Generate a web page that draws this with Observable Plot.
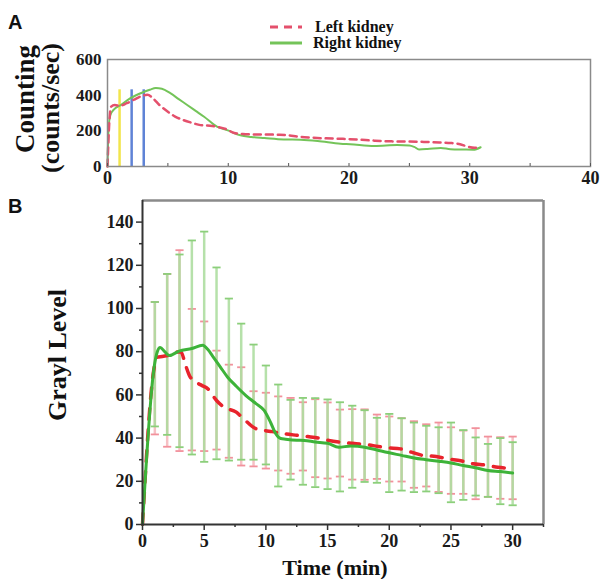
<!DOCTYPE html>
<html><head><meta charset="utf-8">
<script src="https://cdn.jsdelivr.net/npm/d3@7"></script>
<script src="https://cdn.jsdelivr.net/npm/@observablehq/plot@0.6"></script>
<style>
body{margin:0;background:#fff;}
#wrap{position:relative;width:600px;height:579px;overflow:hidden;font-family:"Liberation Serif","Times New Roman",serif;color:#111;}
.abs{position:absolute;}
.panel{font-family:"Liberation Sans",Arial,sans-serif;font-weight:bold;font-size:20px;line-height:1;}
.rot{transform:translate(-50%,-50%) rotate(-90deg);white-space:nowrap;font-weight:bold;line-height:1;}
.leg{font-weight:bold;font-size:16px;line-height:1;white-space:nowrap;}
svg.plot{position:absolute;left:0;}
</style></head>
<body><div id="wrap"></div>
<script>
// ---------- Panel A data ----------
const aLeftT  = [0, 0.15, 0.3, 0.6, 1, 1.6, 2.2, 2.7, 3.3, 3.8, 4.3, 5, 5.6, 6.3, 7, 7.7, 8.5, 9.1, 9.8, 10.5, 11.2, 12.1, 13, 14, 15, 15.7, 16.8, 18, 19.5, 20.7, 22.1, 23.5, 25, 26.2, 27.5, 28.4, 29.2, 29.8, 30.4, 30.9];
const aLeftV  = [0, 250, 335, 345, 340, 355, 375, 392, 402, 380, 345, 307, 280, 260, 245, 232, 228, 222, 210, 188, 182, 180, 180, 178, 175, 168, 162, 158, 155, 151, 145, 141, 140, 138, 135, 132, 125, 112, 105, 113];
const aRightT = [0, 0.1, 0.25, 0.5, 1.1, 1.9, 2.9, 3.5, 4, 4.5, 5.2, 5.9, 6.6, 7.3, 8, 9.1, 9.9, 11, 11.9, 13, 14.6, 16, 17.4, 19.3, 20.1, 22.1, 24, 25, 25.4, 25.8, 26.5, 27.6, 28.4, 29.5, 30.3, 30.9];
const aRightV = [0, 230, 290, 317, 345, 383, 415, 430, 440, 436, 411, 378, 345, 312, 279, 222, 204, 175, 166, 160, 152, 150, 143, 128, 125, 115, 120, 118, 110, 96, 98, 104, 97, 95, 94, 108];
const aYellowT = [1];
const aBlueT   = [2, 3];
const aMarkerTop = 430;
const aXTicks = [0, 10, 20, 30, 40];
const aYTicks = [0, 200, 400, 600];
const aMinorX = [0, 5, 10, 15, 20, 25, 30, 35, 40];

// ---------- Panel B data ----------
const bBarT   = [1,2,3,4,5,6,7,8,9,10,11,12,13,14,15,16,17,18,19,20,21,22,23,24,25,26,27,28,29,30];
const bGreenHi = [103,116,125,131.5,135.6,119,104.6,93,83.3,73.6,64.8,57.7,58.6,58.5,57.9,56.6,55,52.9,49.4,51.2,49.2,47.2,45.7,45,47.2,43.7,40.3,37.3,40,38.1];
const bGreenLo = [45.4,41.5,35.8,32.4,29,30.2,29.6,30,30,27.8,17.6,20.8,18.4,17.3,16.4,15.3,17,19.7,19.3,15,15.7,15,15.3,14.5,10.3,11.4,13.4,12.8,9.4,8.9];
const bRedHi   = [103,116,127,99.8,94,80.5,74,72.8,61.7,61,59.3,58.6,56.6,58,56.5,53.2,53.4,53.3,50.9,50,49.2,47.8,46.4,47.2,45,43.5,44.6,40.7,40.4,40.7];
const bRedLo   = [41.7,36,34,34.3,34,34.7,30.9,27.3,26.9,25.9,25,23.5,25,21.9,21.3,22.2,20.8,20.7,21.1,19.9,19.9,17,17.6,15.1,14.2,14.2,11.7,12.8,11.9,11.7];
const bRightT = [0, 0.94, 1.2, 1.43, 1.8, 2.16, 2.97, 4, 4.87, 5.3, 5.68, 6.3, 6.9, 7.6, 8.38, 9.2, 9.86, 10.4, 10.8, 11.2, 11.6, 12.5, 13.1, 14, 15, 15.9, 16.9, 18, 19, 19.9, 21, 22, 23, 24, 25, 26, 27, 28, 29, 30];
const bRightV = [0, 72.8, 80, 82, 80, 78.2, 80.3, 81.5, 83, 81, 78, 73, 68.2, 64, 59.7, 56, 52.8, 47, 42, 39.8, 39.5, 39, 38.9, 38.2, 37.6, 35.8, 36.3, 35.8, 34.5, 33.3, 32, 30.8, 30, 29.3, 28.5, 27.3, 26.3, 25, 24.5, 23.8];
const bLeftT  = [0, 0.9, 1.2, 1.6, 2.2, 2.7, 3.1, 3.5, 3.8, 4.3, 4.8, 5.3, 6, 6.6, 7.6, 8.2, 9.2, 9.9, 10.5, 11.5, 12.5, 13.4, 14.3, 15.1, 16.2, 17.3, 18.2, 19.1, 20, 20.9, 21.8, 22.8, 23.8, 24.7, 25.8, 26.8, 27.8, 28.8, 30];
const bLeftV  = [0, 71, 77.5, 77.8, 78.5, 79.8, 80, 73.6, 69, 66, 64.4, 62.8, 57.4, 54.3, 52, 48.9, 44.3, 43.5, 43, 42, 41.3, 40.7, 40, 38.9, 38, 37.4, 37, 36.1, 35.5, 35, 33.5, 31.9, 31.5, 30.4, 29.5, 28.1, 27.5, 26.5, 26];
const bXTicks = [0, 5, 10, 15, 20, 25, 30];
const bXMinor = [2.5, 7.5, 12.5, 17.5, 22.5, 27.5, 32.5];
const bYTicks = [0, 20, 40, 60, 80, 100, 120, 140];
const bYMinor = [10, 30, 50, 70, 90, 110, 130];

// ---------- build tables ----------
const aLeft = aLeftT.map((t, i) => ({t, v: aLeftV[i]}));
const aRight = aRightT.map((t, i) => ({t, v: aRightV[i]}));
const bars = bBarT.map((t, i) => ({t, gHi: bGreenHi[i], gLo: bGreenLo[i], rHi: bRedHi[i], rLo: bRedLo[i]}));
const bRight = bRightT.map((t, i) => ({t, v: bRightV[i]}));
const bLeft = bLeftT.map((t, i) => ({t, v: bLeftV[i]}));

const wrap = document.getElementById("wrap");
const serif = "'Liberation Serif','Times New Roman',serif";

const plotA = Plot.plot({
  width: 600, height: 190,
  marginLeft: 107, marginRight: 10, marginTop: 59, marginBottom: 24,
  style: {fontFamily: serif, fontWeight: "bold", fontSize: "17px", color: "#1a1a1a", background: "transparent", overflow: "visible"},
  x: {domain: [0, 40]},
  y: {domain: [0, 600]},
  marks: [
    Plot.ruleX(aYellowT, {y1: 0, y2: aMarkerTop, stroke: "#f2e54c", strokeWidth: 2.5}),
    Plot.ruleX(aBlueT, {y1: 0, y2: aMarkerTop, stroke: "#5f83d6", strokeWidth: 2.5}),
    Plot.line(aRight, {x: "t", y: "v", stroke: "#74c459", strokeWidth: 2, curve: "monotone-x"}),
    Plot.line(aLeft, {x: "t", y: "v", stroke: "#e4506c", strokeWidth: 2.5, strokeDasharray: "7,5", curve: "monotone-x"}),
    Plot.frame({stroke: "#8a8a8a", strokeWidth: 1.5}),
    Plot.axisX({ticks: aMinorX, tickSize: -3, tickFormat: () => "", stroke: "#555", label: null}),
    Plot.axisX({ticks: aXTicks, tickSize: 0, tickPadding: 5, fontSize: 18, label: null}),
    Plot.axisY({ticks: aYTicks, tickSize: 0, tickPadding: 6, fontSize: 17, label: null})
  ]
});
plotA.classList.add("plot");
plotA.style.top = "0px";
wrap.appendChild(plotA);

const plotB = Plot.plot({
  width: 600, height: 389,
  marginLeft: 142, marginRight: 57, marginTop: 10, marginBottom: 55,
  style: {fontFamily: serif, fontWeight: "bold", fontSize: "18px", color: "#1a1a1a", background: "transparent", overflow: "visible"},
  x: {domain: [0, 32.5]},
  y: {domain: [0, 150]},
  marks: [
    Plot.ruleY([150], {stroke: "#8a8a8a", strokeWidth: 2.5}),
    Plot.ruleX([32.5], {stroke: "#8a8a8a", strokeWidth: 2.5}),
    Plot.ruleX(bars, {x: "t", y1: "rLo", y2: "rHi", stroke: "#f6c0c4", strokeWidth: 2.5}),
    Plot.link(bars, {x1: d => d.t - 0.33, x2: d => d.t + 0.33, y1: "rHi", y2: "rHi", stroke: "#f2919c", strokeWidth: 1.8}),
    Plot.link(bars, {x1: d => d.t - 0.33, x2: d => d.t + 0.33, y1: "rLo", y2: "rLo", stroke: "#f2919c", strokeWidth: 1.8}),
    Plot.ruleX(bars, {x: "t", y1: "gLo", y2: "gHi", stroke: "#a9dc9b", strokeWidth: 2.5, strokeOpacity: 0.85}),
    Plot.link(bars, {x1: d => d.t - 0.33, x2: d => d.t + 0.33, y1: "gHi", y2: "gHi", stroke: "#8ccf7b", strokeWidth: 1.8}),
    Plot.link(bars, {x1: d => d.t - 0.33, x2: d => d.t + 0.33, y1: "gLo", y2: "gLo", stroke: "#8ccf7b", strokeWidth: 1.8}),
    Plot.line(bLeft, {x: "t", y: "v", stroke: "#e8232c", strokeWidth: 3.5, strokeDasharray: "11,10", curve: "monotone-x"}),
    Plot.line(bRight, {x: "t", y: "v", stroke: "#3db339", strokeWidth: 3, curve: "monotone-x"}),
    Plot.ruleX([0], {stroke: "#333", strokeWidth: 2}),
    Plot.ruleY([0], {stroke: "#333", strokeWidth: 2}),
    Plot.axisY({ticks: bYMinor, tickSize: 3, tickFormat: () => "", stroke: "#333", strokeWidth: 1.5, label: null}),
    Plot.axisY({ticks: bYTicks, tickSize: 6, tickPadding: 3, fontSize: 18, stroke: "#333", strokeWidth: 1.5, label: null}),
    Plot.axisX({ticks: bXMinor, tickSize: 3, tickFormat: () => "", stroke: "#333", strokeWidth: 1.5, label: null}),
    Plot.axisX({ticks: bXTicks, tickSize: 6, tickPadding: 4, fontSize: 18, stroke: "#333", strokeWidth: 1.5, label: null})
  ]
});
plotB.classList.add("plot");
plotB.style.top = "190px";
wrap.appendChild(plotB);

function addDiv(cls, text, css) {
  const d = document.createElement("div");
  d.className = "abs " + cls;
  d.textContent = text;
  Object.assign(d.style, css);
  wrap.appendChild(d);
  return d;
}
addDiv("panel", "A", {left: "8px", top: "12px"});
addDiv("panel", "B", {left: "8px", top: "196px"});
addDiv("rot", "Counting", {left: "25px", top: "99px", fontSize: "27px"});
addDiv("rot", "(counts/sec)", {left: "51px", top: "108px", fontSize: "26px"});
addDiv("rot", "Grayl Level", {left: "58px", top: "355px", fontSize: "26px"});
addDiv("", "Time (min)", {left: "335px", top: "568px", transform: "translate(-50%,-50%)", fontSize: "22px", fontWeight: "bold", whiteSpace: "nowrap", lineHeight: "1"});
addDiv("leg", "Left kidney", {left: "315px", top: "19px"});
addDiv("leg", "Right kidney", {left: "313px", top: "35px"});

const legSvg = document.createElementNS("http://www.w3.org/2000/svg", "svg");
legSvg.setAttribute("width", "40"); legSvg.setAttribute("height", "30");
legSvg.style.position = "absolute"; legSvg.style.left = "266px"; legSvg.style.top = "15px";
legSvg.innerHTML = '<line x1="4" x2="36" y1="12" y2="12" stroke="#e4506c" stroke-width="3" stroke-dasharray="8,6"/>' +
  '<line x1="4" x2="36" y1="28" y2="28" stroke="#74c459" stroke-width="3"/>';
wrap.appendChild(legSvg);
</script>
</body></html>
